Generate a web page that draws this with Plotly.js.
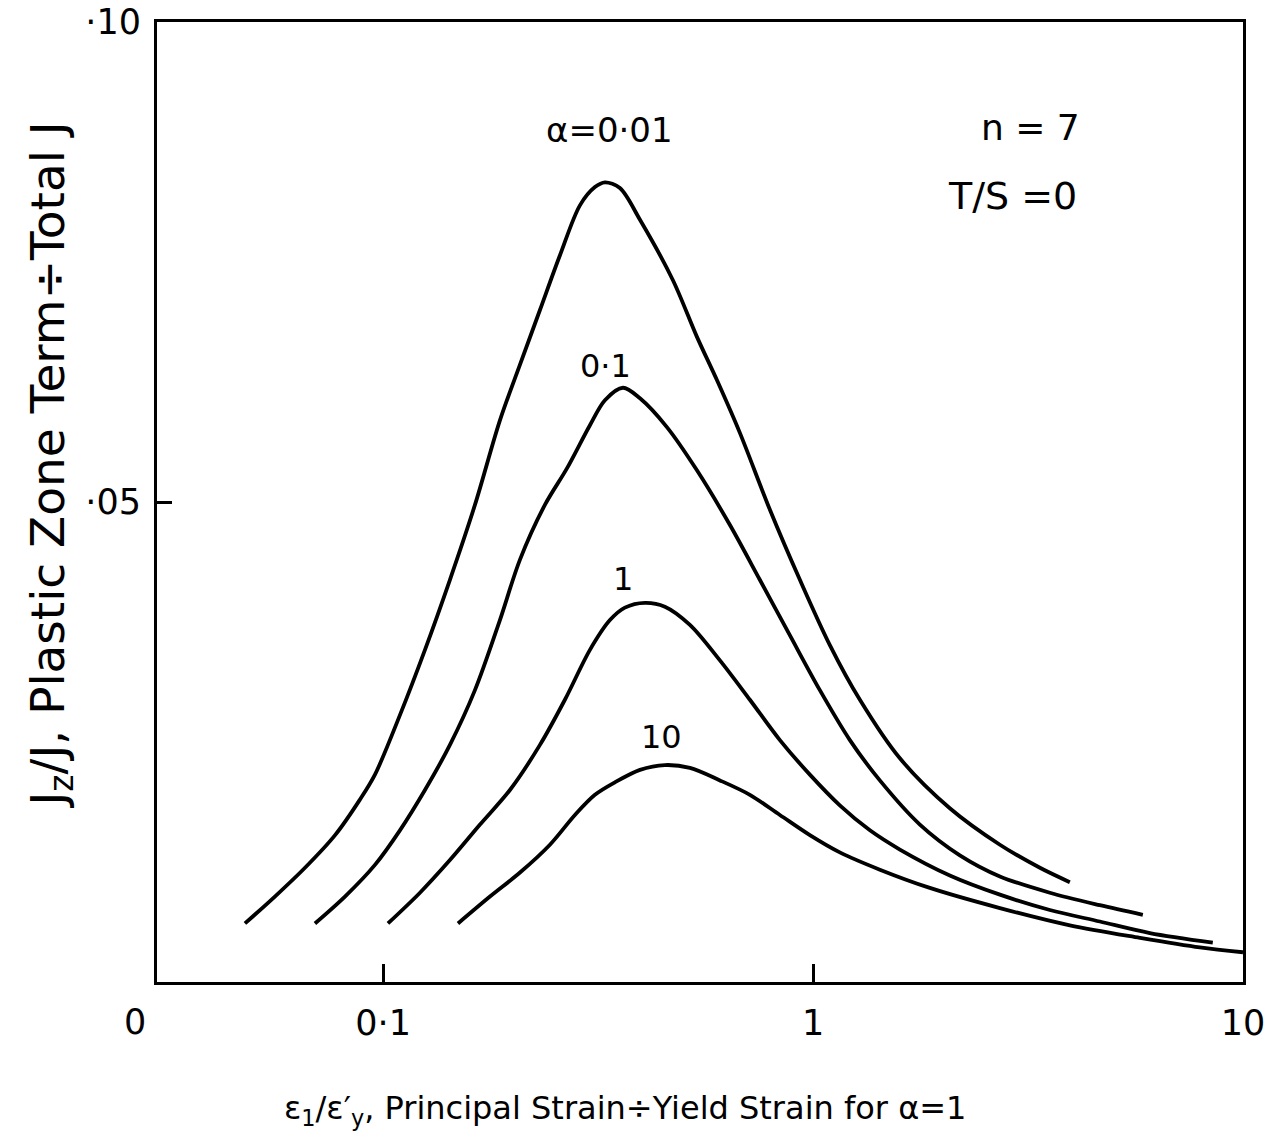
<!DOCTYPE html>
<html>
<head>
<meta charset="utf-8">
<script src="https://cdn.plot.ly/plotly-3.0.1.min.js"></script>
<style>html,body{margin:0;padding:0;background:#fff;}#chart{width:1277px;height:1143px;}</style>
</head>
<body>
<div id="chart"></div>
<script>
// strain ratio (x) and J_z/J (y) for each alpha
const x_a001 = [0.0477,0.056,0.0658,0.0773,0.0883,0.0957,0.1094,0.1251,0.143,0.1635,0.1869,0.2081,0.2316,0.2578,0.2869,0.3109,0.328,0.3554,0.3957,0.4721,0.5369,0.5975,0.6757,0.7936,0.9318,1.094,1.285,1.592,2.08,2.72,3.37,3.956];
const y_a001 = [0.0061,0.0089,0.0119,0.0153,0.0190,0.0216,0.0278,0.0346,0.0419,0.0497,0.0585,0.0643,0.0700,0.0757,0.0809,0.0828,0.0833,0.0827,0.0794,0.0731,0.0672,0.0627,0.0572,0.0492,0.0419,0.0351,0.0294,0.0233,0.0181,0.0143,0.0119,0.0104];

const x_a01 = [0.0694,0.0815,0.0957,0.1094,0.1251,0.143,0.1635,0.1869,0.2081,0.2378,0.2676,0.3027,0.328,0.3612,0.3957,0.4571,0.5369,0.6407,0.7519,0.8835,1.037,1.218,1.43,1.772,2.195,2.72,3.554,4.645,5.848];
const y_a01 = [0.0061,0.0089,0.0122,0.0158,0.0200,0.0247,0.0304,0.0377,0.0440,0.0497,0.0535,0.0580,0.0606,0.0619,0.0608,0.0578,0.0533,0.0476,0.0419,0.0361,0.0304,0.0252,0.0210,0.0164,0.0132,0.0110,0.0093,0.0080,0.0070];

const x_a1 = [0.1026,0.1218,0.143,0.168,0.1972,0.2316,0.2647,0.3027,0.3369,0.365,0.4064,0.4521,0.5171,0.6072,0.7129,0.8372,0.983,1.154,1.356,1.592,2.08,2.72,3.554,4.645,6.072,8.506];
const y_a1 = [0.0061,0.0093,0.0127,0.0164,0.0200,0.0247,0.0294,0.0346,0.0377,0.0390,0.0395,0.0391,0.0372,0.0335,0.0294,0.0252,0.0216,0.0184,0.0158,0.0138,0.0111,0.0091,0.0075,0.0063,0.0051,0.0041];

const x_a10 = [0.1493,0.1772,0.2081,0.2443,0.2793,0.3109,0.346,0.3957,0.4521,0.5171,0.6072,0.7129,0.8372,0.983,1.154,1.43,1.869,2.72,3.956,5.754,7.936,10];
const y_a10 = [0.0061,0.0089,0.0114,0.0143,0.0174,0.0195,0.0208,0.0221,0.0226,0.0223,0.0210,0.0195,0.0174,0.0153,0.0135,0.0117,0.0098,0.0077,0.0059,0.0046,0.0036,0.0031];

const xTickVals = [0.1, 1, 10];
const xTickText = ["0·1", "1", "10"];
const yTickVals = [0.05, 0.10];
const yTickText = ["·05", "·10"];

const FONT = "DejaVu Sans, Verdana, sans-serif";
const line = {color: "#000", width: 3.8, shape: "spline", smoothing: 0.9};

const series = [[x_a001, y_a001], [x_a01, y_a01], [x_a1, y_a1], [x_a10, y_a10]];
const data = series.map(s => ({x: s[0], y: s[1], mode: "lines", line: line, hoverinfo: "skip", showlegend: false}));

const ann = (text, x, y, size, extra) => Object.assign({
  text: text, x: x, y: y, xref: "paper", yref: "paper", showarrow: false,
  font: {family: FONT, size: size, color: "#000"}, xanchor: "center", yanchor: "middle"
}, extra || {});

const layout = {
  width: 1277, height: 1143,
  margin: {l: 157, r: 34, t: 22, b: 161},
  paper_bgcolor: "#fff", plot_bgcolor: "#fff",
  xaxis: {
    type: "log", range: [-1.526, 1.0], showgrid: false, zeroline: false,
    showline: true, mirror: true, linecolor: "#000", linewidth: 3,
    ticks: "inside", ticklen: 18, tickwidth: 3, tickcolor: "#000",
    tickvals: xTickVals, ticktext: xTickText, ticklabelstandoff: 8,
    tickfont: {family: FONT, size: 35, color: "#000"}
  },
  yaxis: {
    range: [0, 0.1], showgrid: false, zeroline: false,
    showline: true, mirror: true, linecolor: "#000", linewidth: 3,
    ticks: "inside", ticklen: 15, tickwidth: 3, tickcolor: "#000",
    tickvals: yTickVals, ticktext: yTickText, ticklabelstandoff: 6,
    tickfont: {family: FONT, size: 35, color: "#000"}
  },
  annotations: [
    ann("0", -0.0203, -0.0418, 35),
    ann("α=0·01", 0.4171, 0.8871, 34),
    ann("0·1", 0.4134, 0.6416, 32),
    ann("1", 0.4291, 0.4201, 32),
    ann("10", 0.4650, 0.2550, 32),
    ann("n = 7", 0.8039, 0.8903, 36),
    ann("T/S =0", 0.7873, 0.8192, 38),
    ann("ε<sub>1</sub>/ε′<sub>y</sub>, Principal Strain÷Yield Strain for α=1", 0.431, -0.1338, 32),
    ann("J<sub>z</sub>/J, Plastic Zone Term÷Total J", -0.0985, 0.538, 47, {textangle: -90})
  ]
};

Plotly.newPlot("chart", data, layout, {displayModeBar: false, staticPlot: true});
</script>
</body>
</html>
